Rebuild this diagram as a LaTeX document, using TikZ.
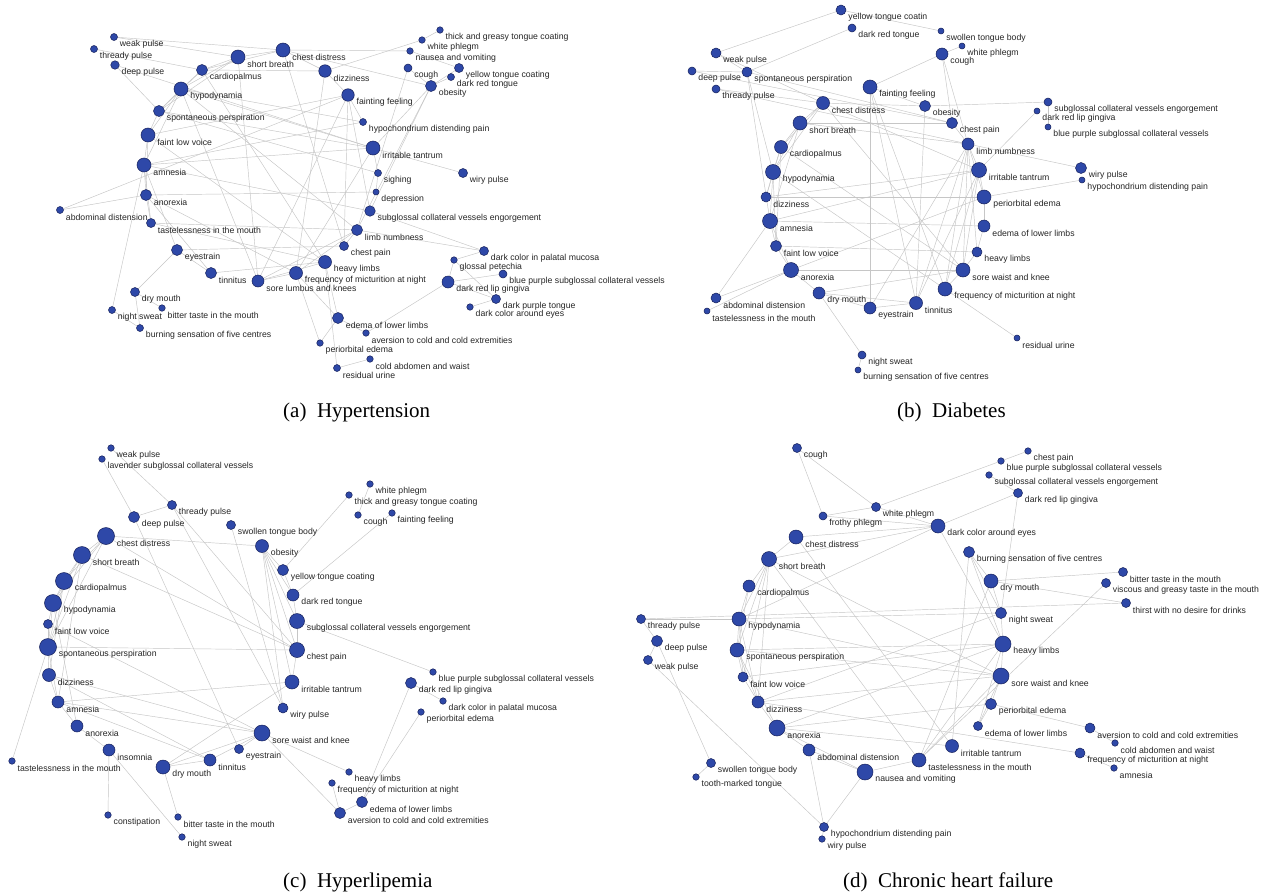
\documentclass[tikz,border=0pt]{standalone}
\usepackage{fontspec}
\setmainfont{Liberation Serif}
\newfontfamily\symfont{Liberation Sans}
\usetikzlibrary{backgrounds}

\definecolor{symblue}{RGB}{46,72,168}
\definecolor{symrim}{RGB}{22,32,90}
\definecolor{linkgray}{RGB}{198,198,198}

\tikzset{
  sym/.style={circle, draw=symrim, line width=0.5pt, fill=symblue, inner sep=0pt},
  symlabel/.style={anchor=west, inner sep=0pt, font=\symfont\fontsize{8.7}{10}\selectfont, text=black!85},
  link/.style={draw=linkgray, line width=0.45pt},
  subcap/.style={anchor=base west, inner sep=0pt, font=\fontsize{21}{24}\selectfont},
}

\begin{document}
\begin{tikzpicture}[x=1pt, y=-1pt]
    \useasboundingbox (0,0) rectangle (1271,894);

    % (a) Hypertension
    \foreach \id/\x/\y/\d/\txt in {
      aWP/114/37/7/weak pulse, aTP/94/49/7/thready pulse, aDP/115/65/8.5/deep pulse,
      aSB/238/57/14/short breath, aCD/283/50/14/chest distress, aCP/202/70/11/cardiopalmus,
      aHD/181/89/14/hypodynamia, aSP/159/111/11/spontaneous perspiration, aFV/148/135/14/faint low voice,
      aAM/144/165/14/amnesia, aAN/146/195/11/anorexia, aAB/60/210/7/abdominal distension,
      aTM/151/223/9/tastelessness in the mouth, aES/177/250/11/eyestrain, aTI/211/273/11/tinnitus,
      aSL/258/281/12/sore lumbus and knees, aDM/135/292/9/dry mouth, aNS/112/310/7/night sweat,
      aBT/162/308/6.5/bitter taste in the mouth, aBS/140/328/7/burning sensation of five centres,
      aTG/440/30/6.5/thick and greasy tongue coating, aWH/422/40/6.5/white phlegm,
      aNV/410/51/6.5/nausea and vomiting, aCO/408/68/8/cough, aYT/459/68/9/yellow tongue coating,
      aDR/451/77/7/dark red tongue, aOB/431/86/11/obesity, aDZ/325/71/12.5/dizziness,
      aFF/348/95/12.5/fainting feeling, aHP/363/122/7/hypochondrium distending pain,
      aIT/373/148/14/irritable tantrum, aWY/463/173/9/wiry pulse, aSG/378/173/7/sighing,
      aDQ/376/192/6/depression, aSE/370/211/10.5/subglossal collateral vessels engorgement,
      aLN/357/230/11/limb numbness, aCH/344/246/9/chest pain, aHL/325/262/13/heavy limbs,
      aFM/296/273/13/frequency of micturition at night, aPM/484/251/9/dark color in palatal mucosa,
      aGP/454/260/6.5/glossal petechia, aBP/503/274/8/blue purple subglossal collateral vessels,
      aLG/448/282/12/dark red lip gingiva, aPT/496/299/9/dark purple tongue,
      aEY/470/307/6.5/dark color around eyes, aEL/338/318/11/edema of lower limbs,
      aAC/366/333/6.5/aversion to cold and cold extremities, aPE/320/343/6.5/periorbital edema,
      aCA/370/359/6.5/cold abdomen and waist, aRU/337/368/7/residual urine}
    {
      \node[sym, minimum size=\d pt] (\id) at (\x,\y) {};
      \node[symlabel] (\id-t) at ([xshift=2pt, yshift=-7pt]\id.east) {\txt};
    }

    % (b) Diabetes
    \foreach \id/\x/\y/\d/\txt in {
      bYT/841/10/10/yellow tongue coatin, bDR/852/28/8/dark red tongue, bWP/716/53/10/weak pulse,
      bDP/692/71/8/deep pulse, bSP/747/72/10/spontaneous perspiration, bTP/716/89/8/thready pulse,
      bFF/870/87/14/fainting feeling, bCD/823/103/13/chest distress, bOB/925/106/11/obesity,
      bSB/800/123/14/short breath, bCP/781/147/13/cardiopalmus, bHD/773/172/15/hypodynamia,
      bDZ/766/197/10/dizziness, bAM/770/221/15/amnesia, bFV/776/246/11/faint low voice,
      bAN/791/270/15/anorexia, bDM/819/293/12/dry mouth, bAB/716/298/10/abdominal distension,
      bTM/707/311/6/tastelessness in the mouth, bES/870/308/12/eyestrain, bTI/916/303/13/tinnitus,
      bNS/862/355/8/night sweat, bBS/858/370/6/burning sensation of five centres,
      bST/941/31/6/swollen tongue body, bWH/962/46/6/white phlegm, bCO/942/54/12/cough,
      bSE/1048/102/8/subglossal collateral vessels engorgement, bLG/1037/111/6/dark red lip gingiva,
      bBP/1048/127/6/blue purple subglossal collateral vessels, bCH/952/123/11/chest pain,
      bLN/968/144/12/limb numbness, bIT/979/170/15/irritable tantrum, bWY/1081/168/11/wiry pulse,
      bHP/1082/180/6/hypochondrium distending pain, bPE/984/197/14/periorbital edema,
      bEL/984/226/12/edema of lower limbs, bHL/977/252/10/heavy limbs,
      bSW/963/270/14/sore waist and knee, bFM/945/289/14/frequency of micturition at night,
      bRU/1017/338/6/residual urine}
    {
      \node[sym, minimum size=\d pt] (\id) at (\x,\y) {};
      \node[symlabel] (\id-t) at ([xshift=2pt, yshift=-7pt]\id.east) {\txt};
    }

    % (c) Hyperlipemia
    \foreach \id/\x/\y/\d/\txt in {
      cWP/111/448/6.5/weak pulse, cLV/102/459/6.5/lavender subglossal collateral vessels,
      cTP/172/505/9/thready pulse, cDP/134/517/11/deep pulse, cST/231/525/9/swollen tongue body,
      cCD/106/536/17/chest distress, cOB/262/546/13/obesity, cSB/82/555/17/short breath,
      cYT/283/570/11/yellow tongue coating, cCP/64/581/17/cardiopalmus, cDR/293/595/12/dark red tongue,
      cHD/53/603/17/hypodynamia, cSE/297/621/15/subglossal collateral vessels engorgement,
      cFV/48/624/9/faint low voice, cSP/48/647/17/spontaneous perspiration, cCH/297/650/15/chest pain,
      cDZ/49/675/13/dizziness, cIT/292/682/14/irritable tantrum, cAM/58/702/12/amnesia,
      cWY/283/708/10/wiry pulse, cAN/77/726/12/anorexia, cSW/262/733/16/sore waist and knee,
      cES/239/749/9/eyestrain, cIN/109/750/12/insomnia, cTI/210/760/12/tinnitus,
      cTM/12/761/6.5/tastelessness in the mouth, cDM/163/767/14/dry mouth,
      cCN/108/815/6.5/constipation, cBT/178/817/6.5/bitter taste in the mouth,
      cNS/182/837/6.5/night sweat, cWH/370/484/6.5/white phlegm,
      cTG/349/495/6.5/thick and greasy tongue coating, cCO/358/515/6.5/cough,
      cFF/392/513/6.5/fainting feeling, cBP/433/672/6.5/blue purple subglossal collateral vessels,
      cLG/411/683/11/dark red lip gingiva, cPM/443/701/6.5/dark color in palatal mucosa,
      cPE/421/712/6.5/periorbital edema, cHL/349/772/6.5/heavy limbs,
      cFM/332/783/6.5/frequency of micturition at night, cEL/362/802/11/edema of lower limbs,
      cAC/340/813/11/aversion to cold and cold extremities}
    {
      \node[sym, minimum size=\d pt] (\id) at (\x,\y) {};
      \node[symlabel] (\id-t) at ([xshift=2pt, yshift=-7pt]\id.east) {\txt};
    }

    % (d) Chronic heart failure
    \foreach \id/\x/\y/\d/\txt in {
      dCO/797/448/9/cough, dWH/876/507/9/white phlegm, dFP/823/516/8/frothy phlegm,
      dCD/796/537/14/chest distress, dSB/769/559/15/short breath, dCP/749/586/12/cardiopalmus,
      dTP/641/619/9/thready pulse, dHD/739/619/14/hypodynamia, dDP/657/641/11/deep pulse,
      dSP/737/650/14/spontaneous perspiration, dWP/648/660/9/weak pulse, dFV/743/677/10/faint low voice,
      dDZ/758/702/12/dizziness, dAN/777/728/16/anorexia, dAB/809/750/12/abdominal distension,
      dNV/865/772/16/nausea and vomiting, dTM/919/760/14/tastelessness in the mouth,
      dST/711/763/9/swollen tongue body, dTK/696/777/6.5/tooth-marked tongue,
      dHP/824/827/9/hypochondrium distending pain, dWY/822/839/6.5/wiry pulse,
      dCH/1028/451/6.5/chest pain, dBP/1001/461/6.5/blue purple subglossal collateral vessels,
      dSE/989/475/6.5/subglossal collateral vessels engorgement, dLG/1018/493/9/dark red lip gingiva,
      dEY/938/526/14/dark color around eyes, dBS/969/552/11/burning sensation of five centres,
      dBT/1123/572/9/bitter taste in the mouth, dDM/991/581/14/dry mouth,
      dVG/1106/583/9/viscous and greasy taste in the mouth, dTH/1126/603/9/thirst with no desire for drinks,
      dNS/1001/613/11/night sweat, dHL/1003/644/16/heavy limbs, dSW/1001/676/16/sore waist and knee,
      dPE/991/704/11/periorbital edema, dEL/978/726/9/edema of lower limbs,
      dAC/1090/728/10/aversion to cold and cold extremities, dCA/1115/743/6.5/cold abdomen and waist,
      dIT/952/746/13/irritable tantrum, dFM/1080/753/10/frequency of micturition at night,
      dAM/1114/768/6.5/amnesia}
    {
      \node[sym, minimum size=\d pt] (\id) at (\x,\y) {};
      \node[symlabel] (\id-t) at ([xshift=2pt, yshift=-7pt]\id.east) {\txt};
    }

    % links, behind the symptoms
    \begin{scope}[on background layer]
      \fill[white] (0,0) rectangle (1271,894);
      \foreach \u/\v in {
        aWP/aCD, aWP/aSB, aTP/aCP, aDP/aIT, aDP/aSP,
        aCD/aSB, aCD/aCP, aSB/aCP, aSB/aHD, aCP/aHD, aHD/aSP, aSP/aFV, aFV/aAM, aAM/aAN, aAN/aTM,
        aSB/aSP, aHD/aFV, aAM/aTM, aAM/aES, aFV/aAN, aHD/aAM, aCP/aSP,
        aCD/aCH, aCD/aOB, aCD/aNV, aCD/aDZ, aSB/aSL, aCP/aDZ, aCP/aHL, aHD/aIT, aHD/aHP, aHD/aLN,
        aHD/aSL, aSP/aIT, aSP/aSG, aFV/aFF, aFV/aHL, aAM/aIT, aAM/aHP, aAM/aSE, aAN/aDQ, aAN/aFM,
        aTM/aLN, aTM/aHL, aES/aCH, aES/aTI, aES/aDM, aTI/aHL, aTI/aAN, aSL/aFM, aSL/aLN, aSL/aFF,
        aSL/aHL, aFM/aIT, aFM/aLN, aFM/aEL, aFM/aPE, aDZ/aFM, aDZ/aWH, aDZ/aFF, aFF/aSE, aFF/aCH,
        aFF/aHP, aIT/aWY, aIT/aOB, aIT/aSG, aOB/aSE, aOB/aLN, aOB/aCO, aOB/aYT, aOB/aDR, aNV/aYT,
        aWH/aTG, aCO/aLN, aPM/aLN, aPM/aGP, aSE/aPM, aLG/aGP, aLG/aPT, aLG/aBP, aLG/aAC, aPT/aEY,
        aGP/aPT, aEL/aPE, aRU/aHL, aCA/aRU, aAC/aEL, aAB/aAN, aAB/aFF, aDM/aBT, aDM/aBS, aNS/aAM,
        aNS/aBS, aLN/aCH, aHL/aEL, aSG/aDQ}
        \draw[link] (\u) -- (\v);
      \foreach \u/\v in {
        bWP/bYT, bSP/bDR, bYT/bST, bWP/bCD, bWP/bSP, bDP/bSP, bDP/bCH, bSP/bCH, bSP/bHD, bSP/bAM,
        bTP/bLN, bTP/bCD, bFF/bES, bFF/bFM, bCO/bFF, bFF/bOB, bFF/bTI,
        bCD/bSB, bCD/bCP, bCD/bHD, bCD/bIT, bCD/bSW, bCD/bOB, bSB/bCP, bSB/bHD, bSB/bCH, bSB/bAM,
        bSB/bLN, bCP/bHD, bCP/bDZ, bCP/bFV, bCP/bSW, bHD/bAM, bHD/bFV, bHD/bFM, bHD/bDZ,
        bDZ/bPE, bDZ/bIT, bAM/bIT, bAM/bFV, bAM/bAN, bAM/bEL, bFV/bHL, bFV/bAN, bAN/bAB, bAN/bTM,
        bAN/bDM, bAN/bPE, bAN/bSW, bDM/bES, bDM/bTI, bDM/bNS, bDM/bSW, bES/bTI, bES/bLN, bTI/bIT,
        bTI/bLN, bTI/bOB, bFM/bRU, bFM/bLN, bFM/bIT, bCH/bLN, bLN/bIT, bIT/bPE, bPE/bEL, bEL/bHL,
        bHL/bSW, bSW/bFM, bLN/bPE, bIT/bSW, bLN/bWY, bHP/bPE, bCO/bCH, bCO/bWH, bCO/bLN, bOB/bSE,
        bLG/bIT, bAB/bAM, bNS/bBS, bLN/bHL, bLN/bSW, bBP/bSE}
        \draw[link] (\u) -- (\v);
      \foreach \u/\v in {
        cLV/cDP, cWP/cTP, cDP/cTP, cDP/cES, cTP/cCH, cTP/cWY, cST/cWY, cCD/cCH, cSB/cCH, cCD/cOB,
        cOB/cYT, cOB/cDR, cOB/cSE, cOB/cCH, cOB/cIT, cOB/cWY, cYT/cDR, cDR/cSE, cSE/cCH, cCH/cIT,
        cDR/cFF, cYT/cTG, cWH/cCO, cSE/cBP, cLG/cEL, cPE/cEL, cLG/cPM, cSW/cHL, cSW/cAC, cFM/cAC,
        cEL/cAC, cSW/cDZ, cSW/cAM, cSW/cDM, cSW/cTI, cSW/cES, cIT/cAM, cIT/cDM, cSP/cCH, cFV/cSW,
        cDZ/cTI, cAM/cTI, cAN/cIN, cIN/cCN, cIN/cNS, cDM/cBT, cDM/cTI, cSP/cTM,
        cCD/cSB, cSB/cCP, cCP/cHD, cHD/cFV, cFV/cSP, cSP/cDZ, cDZ/cAM, cAM/cAN, cCD/cCP, cCD/cHD,
        cSB/cHD, cSB/cSP, cCP/cSP, cCD/cSP, cHD/cSP, cSP/cAM, cHD/cAN, cSB/cAM, cCP/cDZ}
        \draw[link] (\u) -- (\v);
      \foreach \u/\v in {
        dCO/dFP, dCO/dWH, dFP/dWH, dWH/dEY, dWH/dBP, dCH/dBP, dCD/dEY, dFP/dEY, dSB/dEY, dHD/dEY,
        dEY/dHL, dEY/dLG, dLG/dNS, dSE/dLG, dTP/dHD, dHD/dNS, dDP/dWP, dTP/dDP, dDP/dST, dWP/dHP,
        dST/dTK, dSB/dTM, dSB/dSW, dHD/dSW, dSP/dSW, dSP/dHL, dFV/dHL, dDZ/dNS, dAN/dHL, dDZ/dSW,
        dAN/dPE, dAB/dNV, dAN/dAB, dAN/dNV, dAB/dHP, dNV/dHP, dNV/dTM, dAN/dIT, dDZ/dFM, dHP/dWY,
        dIT/dBS, dTM/dDM, dTM/dVG, dTM/dHL, dTM/dSW, dBS/dDM, dBS/dNS, dBS/dHL, dDM/dNS, dDM/dBT,
        dDM/dTH, dNS/dHL, dHL/dSW, dSW/dPE, dPE/dEL, dHL/dEL, dSW/dEL, dPE/dAC, dAC/dCA, dFM/dAM,
        dTP/dTH, dCD/dSB, dSB/dCP, dCP/dHD, dHD/dSP, dSP/dFV, dFV/dDZ, dDZ/dAN, dSB/dHD, dSB/dSP,
        dSB/dFV, dCP/dSP, dHD/dFV, dHD/dDZ, dSP/dDZ, dSB/dDZ, dCD/dIT, dSP/dAN}
        \draw[link] (\u) -- (\v);
    \end{scope}

    % captions
    \node[subcap] (capA) at (283,417) {(a)\ \ Hypertension};
    \node[subcap] (capB) at (897,417) {(b)\ \ Diabetes};
    \node[subcap] (capC) at (283,887) {(c)\ \ Hyperlipemia};
    \node[subcap] (capD) at (843,887) {(d)\ \ Chronic heart failure};
\end{tikzpicture}
\end{document}
